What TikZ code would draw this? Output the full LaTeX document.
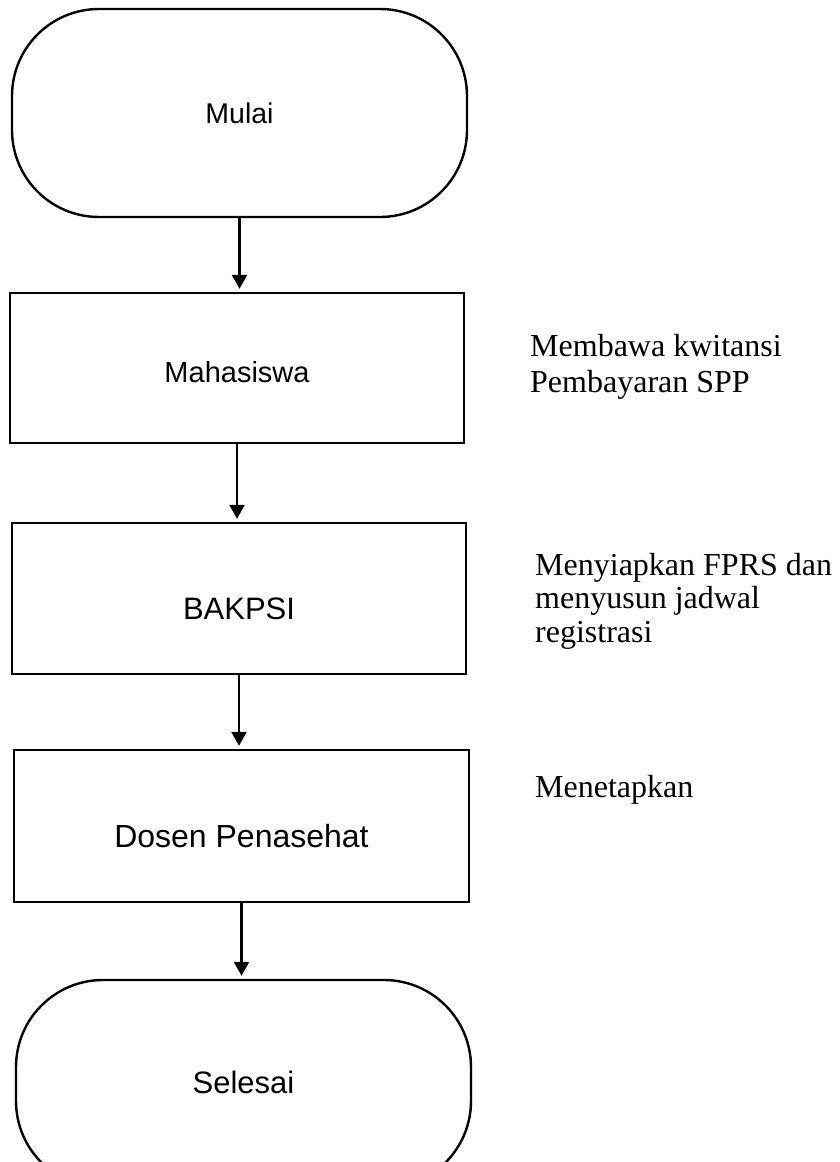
\documentclass[tikz,border=0pt]{standalone}
\usepackage{fontspec}
\setmainfont{Liberation Serif}
\newfontfamily\boxfont{Liberation Sans}
\usetikzlibrary{arrows.meta}
\begin{document}
\begin{tikzpicture}[x=1pt,y=1pt,
  flowline/.style={line width=2.4pt},
  terminal/.style={flowline, draw, rounded corners=87pt, minimum width=455pt,
    minimum height=208pt, text depth=0pt, font=\boxfont},
  process/.style={flowline, draw, minimum width=454pt, text depth=0pt, font=\boxfont},
  flowarrow/.style={flowline, -{Triangle[length=14pt,width=15pt]}, shorten >=3pt},
  note/.style={anchor=base west, inner sep=0pt}]
  \useasboundingbox (0,0) rectangle (839,-1162);

  % main chain of the flowchart
  \node[terminal, text height=20pt, font=\boxfont\fontsize{28.5}{32}\selectfont]
    (mulai) at (239.5,-113) {Mulai};
  \node[process, minimum height=150pt, text height=28pt, font=\boxfont\fontsize{29}{33}\selectfont]
    (mhs) at (237,-368) {Mahasiswa};
  \node[process, minimum height=151pt, text height=41pt, font=\boxfont\fontsize{31}{35}\selectfont]
    (bak) at (239,-598.5) {BAKPSI};
  \node[process, minimum width=455pt, minimum height=152pt, text height=42pt, font=\boxfont\fontsize{32}{36}\selectfont]
    (dosen) at (241.5,-826) {Dosen Penasehat};
  \node[terminal, text height=18pt, font=\boxfont\fontsize{31}{35}\selectfont]
    (selesai) at (243.5,-1084) {Selesai};

  % connectors
  \draw[flowarrow] (mulai.south) -- (mulai.south |- mhs.north);
  \draw[flowarrow] (mhs.south) -- (mhs.south |- bak.north);
  \draw[flowarrow] (bak.south) -- (bak.south |- dosen.north);
  \draw[flowarrow] (dosen.south) -- (dosen.south |- selesai.north);

  % descriptions beside the steps
  \node[note] (n1) at (530,-356)
    {\fontsize{32}{36}\selectfont\vtop{\hbox{Membawa kwitansi}\hbox{Pembayaran SPP}}};
  \node[note] (n2) at (535,-575)
    {\fontsize{32}{33.5}\selectfont\vtop{\hbox{Menyiapkan FPRS dan}\hbox{menyusun jadwal}\hbox{registrasi}}};
  \node[note] (n3) at (535,-797)
    {\fontsize{32}{36}\selectfont Menetapkan};
\end{tikzpicture}
\end{document}
